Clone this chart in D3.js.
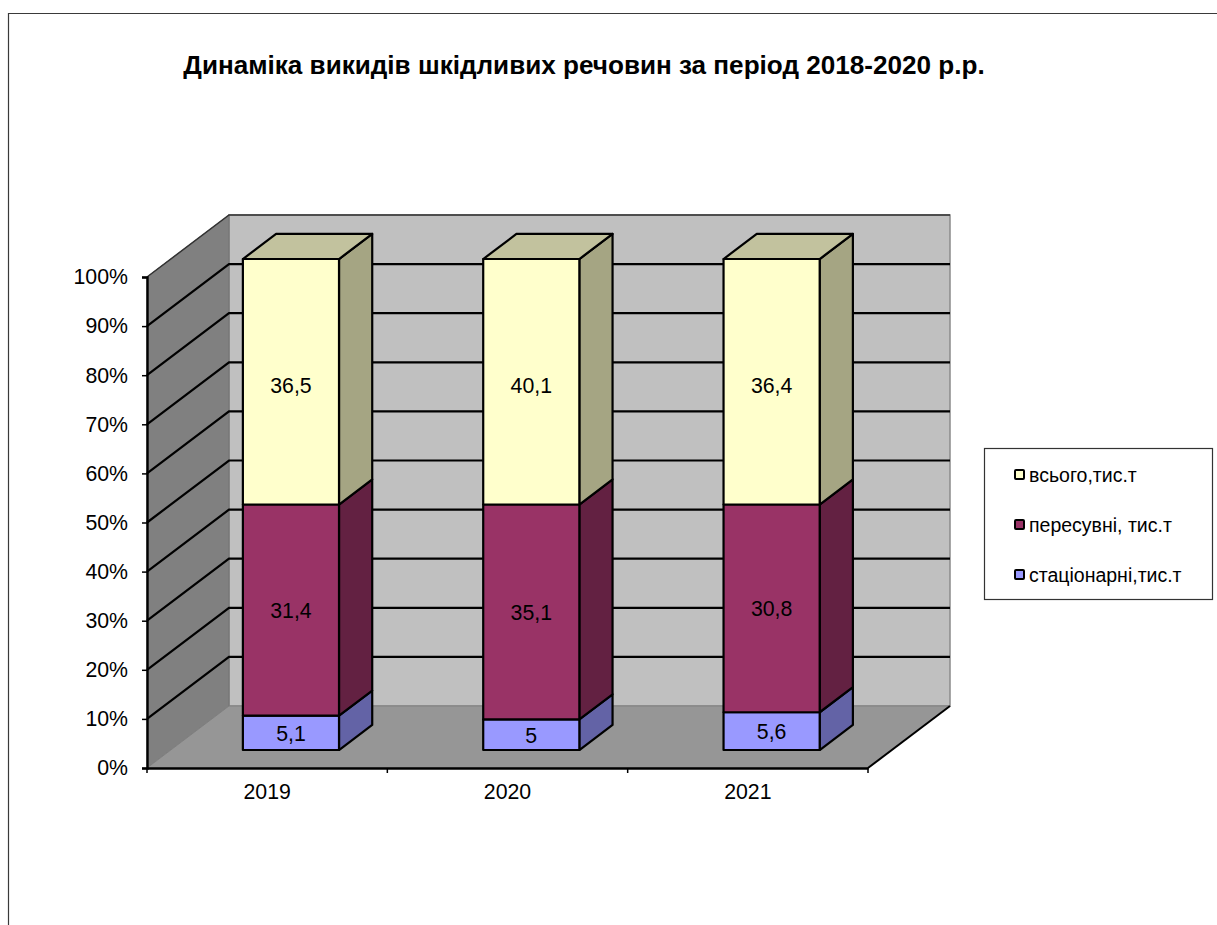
<!DOCTYPE html>
<html lang="uk">
<head>
<meta charset="utf-8">
<title>Динаміка викидів шкідливих речовин</title>
<script src="https://cdn.jsdelivr.net/npm/d3@7/dist/d3.min.js"></script>
<style>
  html, body { margin: 0; padding: 0; background: #fff; overflow: hidden; }
  svg { display: block; }
  text { font-family: "Liberation Sans", Arial, sans-serif; fill: #000; }
</style>
</head>
<body>
<svg id="chart" width="1217" height="925"></svg>
<script>
// Emission totals per year, thousand tonnes
const years = ["2019", "2020", "2021"];
const stationary = [5.1, 5, 5.6];
const mobile = [31.4, 35.1, 30.8];
const total = [36.5, 40.1, 36.4];
const seriesKeys = ["stationary", "mobile", "total"];
const seriesNames = ["стаціонарні,тис.т", "пересувні, тис.т", "всього,тис.т"];
const seriesFront = ["#9999FF", "#993366", "#FFFFCC"];
const seriesSide = ["#6363A6", "#632142", "#A5A583"];
const seriesTop = ["#7F7FD0", "#7F2A55", "#C2C29E"];
const yTicks = d3.range(0, 1.01, 0.1);
const titleText = "Динаміка викидів шкідливих речовин за період 2018-2020 р.р.";

const rows = years.map((year, i) => ({ year, stationary: stationary[i], mobile: mobile[i], total: total[i] }));
const stacked = d3.stack().keys(seriesKeys).offset(d3.stackOffsetExpand)(rows);

const svg = d3.select("#chart");

// Front plane of the 3D box and the depth vector from front to back wall
const frontLeft = 147, frontRight = 868, frontBottom = 768, frontTop = 277;
const depthX = 82, depthY = -62;

const x = d3.scaleBand().domain(years).range([frontLeft, frontRight]);
const xBar = d3.scaleBand().domain(years).range([frontLeft, frontRight]).paddingInner(0.6).paddingOuter(0.3);
const y = d3.scaleLinear().domain([0, 1]).range([frontBottom, frontTop]);

// Oblique projection: d is the depth fraction (0 = front plane, 1 = back wall)
const project = (px, py, d) => [px + depthX * d, py + depthY * d];
const poly = pts => "M" + pts.map(p => p.join(",")).join("L") + "Z";

// Outer chart frame, running off the page to the right and below
svg.append("path").attr("d", "M8.5,930V13.5H1222").attr("fill", "none").attr("stroke", "#3a3a3a").attr("stroke-width", 1.2);

svg.append("text").attr("x", 584).attr("y", 74).attr("text-anchor", "middle")
  .attr("font-size", 26.1).attr("font-weight", "bold").text(titleText);

// Walls and floor
const box = svg.append("g");
box.append("path")
  .attr("d", poly([project(frontLeft, y(1), 1), project(frontRight, y(1), 1), project(frontRight, y(0), 1), project(frontLeft, y(0), 1)]))
  .attr("fill", "#C0C0C0").attr("stroke", "#8a8a8a").attr("stroke-width", 1.5);
box.append("path")
  .attr("d", poly([project(frontLeft, y(1), 0), project(frontLeft, y(1), 1), project(frontLeft, y(0), 1), project(frontLeft, y(0), 0)]))
  .attr("fill", "#808080").attr("stroke", "#737373").attr("stroke-width", 1);
box.append("path")
  .attr("d", poly([project(frontLeft, y(0), 0), project(frontLeft, y(0), 1), project(frontRight, y(0), 1), project(frontRight, y(0), 0)]))
  .attr("fill", "#969696").attr("stroke", "#808080").attr("stroke-width", 1);

// Gridlines wrap from the left wall across the back wall
box.selectAll("path.grid").data(yTicks.slice(1, -1)).join("path").attr("class", "grid")
  .attr("d", t => {
    const a = project(frontLeft, y(t), 0), b = project(frontLeft, y(t), 1), c = project(frontRight, y(t), 1);
    return `M${a}L${b}L${c}`;
  })
  .attr("fill", "none").attr("stroke", "#000").attr("stroke-width", 2.2);
box.append("path")
  .attr("d", `M${project(frontLeft, y(1), 0)}L${project(frontLeft, y(1), 1)}L${project(frontRight, y(1), 1)}`)
  .attr("fill", "none").attr("stroke", "#333").attr("stroke-width", 1.5);

// Front edges of the box
box.append("path")
  .attr("d", `M${project(frontRight, y(0), 0)}L${project(frontRight, y(0), 1)}`)
  .attr("fill", "none").attr("stroke", "#000").attr("stroke-width", 2);

const yAxis = svg.append("g").attr("transform", `translate(${frontLeft},0)`)
  .call(d3.axisLeft(y).tickValues(yTicks).tickFormat(d3.format(".0%")).tickSize(5).tickPadding(14));
const xAxis = svg.append("g").attr("transform", `translate(0,${frontBottom})`)
  .call(d3.axisBottom(x).tickSize(0).tickPadding(16));
[yAxis, xAxis].forEach(ax => {
  ax.attr("font-family", null);
  ax.selectAll("text").attr("font-size", 21.3);
  ax.selectAll("line").attr("stroke", "#000").attr("stroke-width", 1.5);
  ax.select(".domain").attr("stroke", "#000").attr("stroke-width", 2.4);
});
// Category separators sit on the band edges rather than the band centres
xAxis.selectAll("line.edge").data([...years.map(x), frontRight]).join("line").attr("class", "edge")
  .attr("x1", d => d).attr("x2", d => d).attr("y1", 0).attr("y2", 5)
  .attr("stroke", "#000").attr("stroke-width", 1.5);

// Stacked 3D bars
const barNear = 0.29, barFar = 0.695;
const barFaces = svg.append("g");
stacked.forEach((layer, si) => {
  layer.forEach((seg, ci) => {
    const left = xBar(years[ci]), right = left + xBar.bandwidth();
    const y0 = y(seg[0]), y1 = y(seg[1]);
    const g = barFaces.append("g").attr("stroke", "#000").attr("stroke-width", 2.2).attr("stroke-linejoin", "round");
    g.append("path").attr("fill", seriesSide[si])
      .attr("d", poly([project(right, y0, barNear), project(right, y0, barFar), project(right, y1, barFar), project(right, y1, barNear)]));
    if (si === stacked.length - 1) {
      g.append("path").attr("fill", seriesTop[si])
        .attr("d", poly([project(left, y1, barNear), project(left, y1, barFar), project(right, y1, barFar), project(right, y1, barNear)]));
    }
    g.append("path").attr("fill", seriesFront[si])
      .attr("d", poly([project(left, y0, barNear), project(right, y0, barNear), project(right, y1, barNear), project(left, y1, barNear)]));
  });
});

// Value labels centred on the front face of each segment; the top series sits a little lower
const labelDrop = [8, 8, 11];
stacked.forEach((layer, si) => {
  layer.forEach((seg, ci) => {
    const value = seg.data[layer.key];
    const [cx] = project(xBar(years[ci]) + xBar.bandwidth() / 2, 0, barNear);
    const [, cy] = project(0, y((seg[0] + seg[1]) / 2), barNear);
    svg.append("text").attr("x", cx).attr("y", cy + labelDrop[si])
      .attr("text-anchor", "middle").attr("font-size", 21.3)
      .text(String(value).replace(".", ","));
  });
});

// Legend
const legend = svg.append("g").attr("transform", "translate(984,448)");
legend.append("rect").attr("x", 0.5).attr("y", 0.5).attr("width", 228).attr("height", 151)
  .attr("fill", "#fff").attr("stroke", "#333").attr("stroke-width", 1.2);
const legendRows = legend.selectAll("g.row").data(d3.range(seriesNames.length).reverse()).join("g").attr("class", "row")
  .attr("transform", (d, i) => `translate(0,${27 + i * 50})`);
legendRows.append("rect").attr("x", 31).attr("y", -5).attr("width", 9).attr("height", 9).attr("rx", 1)
  .attr("fill", d => seriesFront[d]).attr("stroke", "#000").attr("stroke-width", 2);
legendRows.append("text").attr("x", 45).attr("y", 7).attr("font-size", 19.5)
  .text(d => seriesNames[d]);
</script>
</body>
</html>
